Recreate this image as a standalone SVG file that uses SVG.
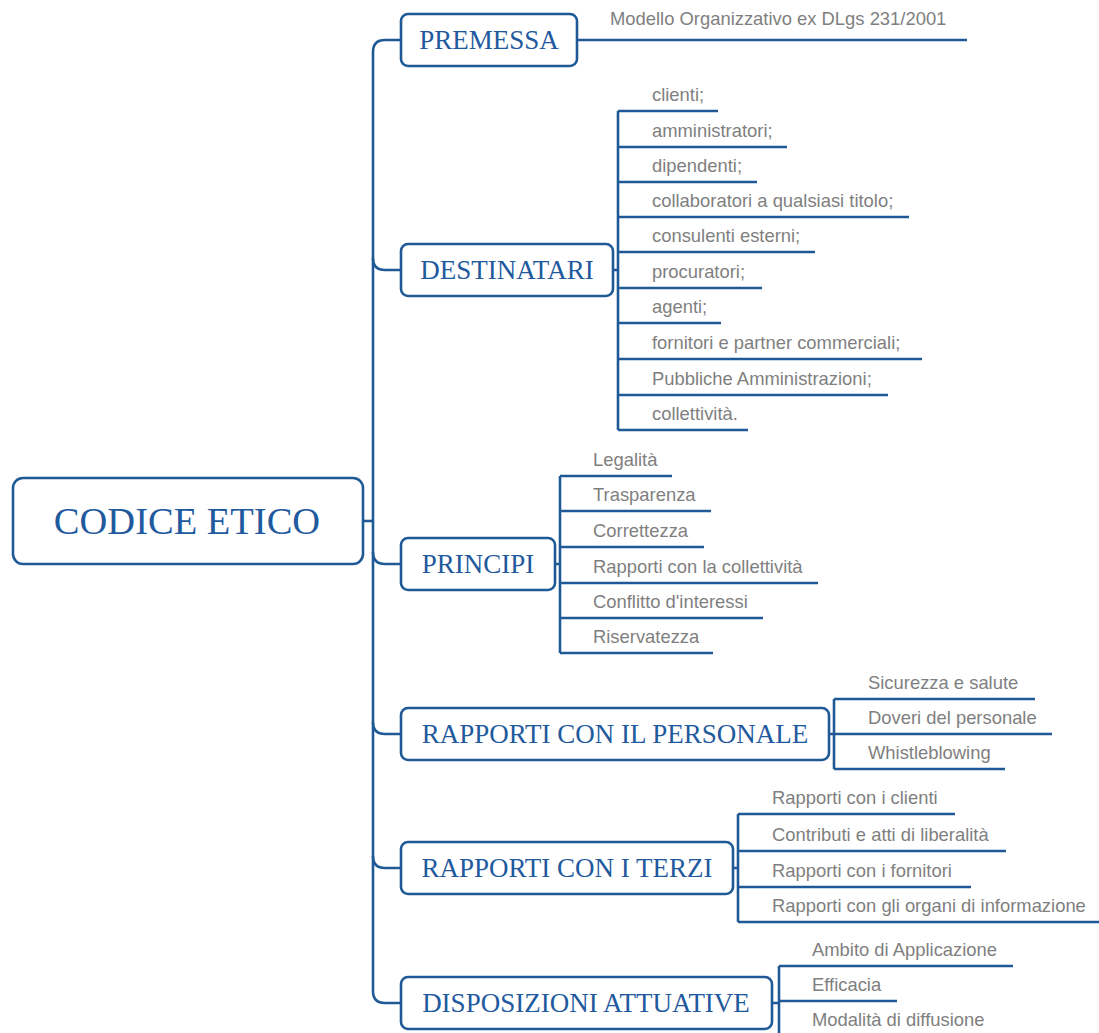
<svg xmlns="http://www.w3.org/2000/svg" width="1099" height="1033" viewBox="0 0 1099 1033">
<style>
.box{fill:#fff;stroke:#1f5a96;stroke-width:2.6}
.bt{font-family:"Liberation Serif",serif;font-size:27px;fill:#1f5a9e;text-anchor:middle}
.ct{font-family:"Liberation Serif",serif;font-size:38.5px;fill:#1f5a9e;text-anchor:middle}
.lt{font-family:"Liberation Sans",Arial,sans-serif;font-size:18.4px;fill:#7f7f7f}
.ln{fill:none;stroke:#1f5a96;stroke-width:2.6;stroke-linecap:butt}
</style>
<rect width="1099" height="1033" fill="#fff"/>
<g id="connectors">
<path class="ln" d="M363,521 H373"/>
<path class="ln" d="M401,40 H385 Q373,40 373,52 V991 Q373,1003 385,1003 H401"/>
<path class="ln" d="M373,258 Q373,270 385,270 H401"/>
<path class="ln" d="M373,552 Q373,564 385,564 H401"/>
<path class="ln" d="M373,722 Q373,734 385,734 H401"/>
<path class="ln" d="M373,856 Q373,868 385,868 H401"/>
<path class="ln" d="M577,40 H967"/>
<path class="ln" d="M613,270 H618 M618,111 V430 M618,111 H718 M618,147 H787 M618,182 H757 M618,217 H909 M618,252 H815 M618,288 H762 M618,323 H721 M618,359 H922 M618,395 H888 M618,430 H748"/>
<path class="ln" d="M555,564 H560 M560,476 V653 M560,476 H672 M560,511 H711 M560,547 H704 M560,583 H818 M560,618 H763 M560,653 H713"/>
<path class="ln" d="M829,734 H834 M834,699 V769 M834,699 H1035 M834,734 H1052 M834,769 H1005"/>
<path class="ln" d="M733,868 H738 M738,814 V922 M738,814 H955 M738,851 H1006 M738,887 H971 M738,922 H1099"/>
<path class="ln" d="M772,1003 H779 M779,966 V1040 M779,966 H1013 M779,1001 H897 M779,1036 H990"/>
</g>
<g id="root">
<rect class="box" x="13" y="478" width="350" height="86" rx="10"/>
<text class="ct" x="187" y="534">CODICE ETICO</text>
</g>
<g id="premessa">
<rect class="box" x="401" y="14" width="176" height="52" rx="7"/>
<text class="bt" x="489" y="49">PREMESSA</text>
<text class="lt" x="610" y="25">Modello Organizzativo ex DLgs 231/2001</text>
</g>
<g id="destinatari">
<rect class="box" x="401" y="244" width="212" height="52" rx="7"/>
<text class="bt" x="507" y="279">DESTINATARI</text>
<text class="lt" x="652" y="101">clienti;</text>
<text class="lt" x="652" y="137">amministratori;</text>
<text class="lt" x="652" y="172">dipendenti;</text>
<text class="lt" x="652" y="207">collaboratori a qualsiasi titolo;</text>
<text class="lt" x="652" y="242">consulenti esterni;</text>
<text class="lt" x="652" y="278">procuratori;</text>
<text class="lt" x="652" y="313">agenti;</text>
<text class="lt" x="652" y="349">fornitori e partner commerciali;</text>
<text class="lt" x="652" y="385">Pubbliche Amministrazioni;</text>
<text class="lt" x="652" y="420">collettività.</text>
</g>
<g id="principi">
<rect class="box" x="401" y="538" width="154" height="52" rx="7"/>
<text class="bt" x="478" y="573">PRINCIPI</text>
<text class="lt" x="593" y="466">Legalità</text>
<text class="lt" x="593" y="501">Trasparenza</text>
<text class="lt" x="593" y="537">Correttezza</text>
<text class="lt" x="593" y="573">Rapporti con la collettività</text>
<text class="lt" x="593" y="608">Conflitto d'interessi</text>
<text class="lt" x="593" y="643">Riservatezza</text>
</g>
<g id="personale">
<rect class="box" x="401" y="708" width="428" height="52" rx="7"/>
<text class="bt" x="615" y="743">RAPPORTI CON IL PERSONALE</text>
<text class="lt" x="868" y="689">Sicurezza e salute</text>
<text class="lt" x="868" y="724">Doveri del personale</text>
<text class="lt" x="868" y="759">Whistleblowing</text>
</g>
<g id="terzi">
<rect class="box" x="401" y="842" width="332" height="52" rx="7"/>
<text class="bt" x="567" y="877">RAPPORTI CON I TERZI</text>
<text class="lt" x="772" y="804">Rapporti con i clienti</text>
<text class="lt" x="772" y="841">Contributi e atti di liberalità</text>
<text class="lt" x="772" y="877">Rapporti con i fornitori</text>
<text class="lt" x="772" y="912">Rapporti con gli organi di informazione</text>
</g>
<g id="disposizioni">
<rect class="box" x="401" y="977" width="371" height="52" rx="7"/>
<text class="bt" x="586" y="1012">DISPOSIZIONI ATTUATIVE</text>
<text class="lt" x="812" y="956">Ambito di Applicazione</text>
<text class="lt" x="812" y="991">Efficacia</text>
<text class="lt" x="812" y="1026">Modalità di diffusione</text>
</g>
</svg>
